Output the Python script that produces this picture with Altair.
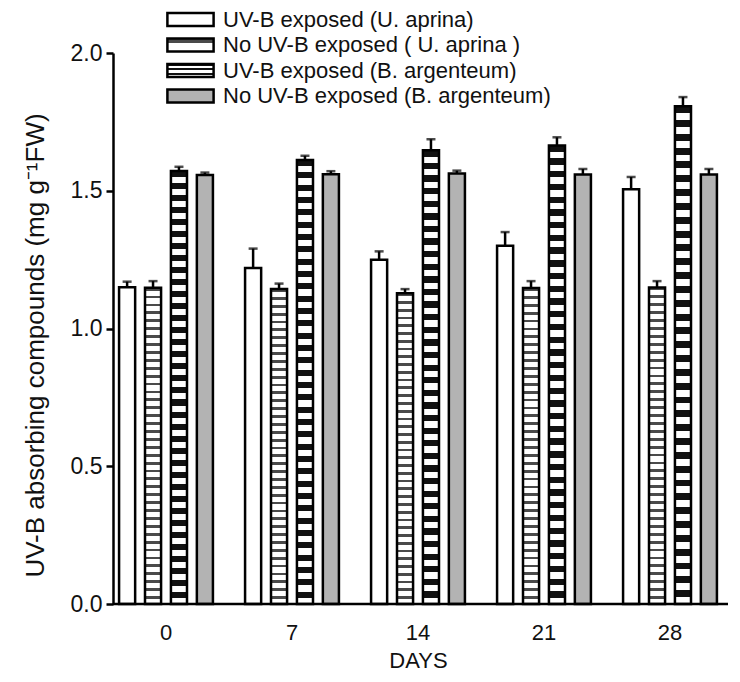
import altair as alt
import pandas as pd

days = ["0", "7", "14", "21", "28"]
series = [
    "UV-B exposed (U. aprina)",
    "No UV-B exposed ( U. aprina )",
    "UV-B exposed (B. argenteum)",
    "No UV-B exposed (B. argenteum)",
]
uv_aprina = [1.150, 1.220, 1.250, 1.300, 1.505]
uv_aprina_err = [0.020, 0.070, 0.030, 0.050, 0.045]
no_aprina = [1.148, 1.143, 1.128, 1.147, 1.149]
no_aprina_err = [0.024, 0.020, 0.015, 0.025, 0.023]
uv_arg = [1.572, 1.612, 1.647, 1.664, 1.807]
uv_arg_err = [0.015, 0.015, 0.040, 0.030, 0.033]
no_arg = [1.557, 1.560, 1.563, 1.559, 1.559]
no_arg_err = [0.009, 0.011, 0.010, 0.020, 0.020]

values = [uv_aprina, no_aprina, uv_arg, no_arg]
errors = [uv_aprina_err, no_aprina_err, uv_arg_err, no_arg_err]

rows = []
for s, vals, errs in zip(series, values, errors):
    for d, v, e in zip(days, vals, errs):
        rows.append({"day": d, "series": s, "value": v, "err": e})
df = pd.DataFrame(rows)


def stripes(n, c1, c2, frac):
    stops = []
    for i in range(n):
        a = i / n
        m = (i + frac) / n
        b = (i + 1) / n
        stops += [(a, c1), (m, c1), (m, c2), (b, c2)]
    st = ",".join("{offset:%.5f,color:'%s'}" % (o, c) for o, c in stops)
    return "{gradient:'linear',x1:0,y1:0,x2:0,y2:1,stops:[" + st + "]}"


fills = [
    "#ffffff",
    {"expr": stripes(40, "#4a4a4a", "#ffffff", 0.36)},
    {"expr": stripes(36, "#111111", "#ffffff", 0.5)},
    "#b3b3b3",
]

FONT = "Liberation Sans"

xscale = alt.Scale(domain=days, range=[-10, 620], paddingInner=0, paddingOuter=0)
xoff = alt.Scale(domain=series, paddingInner=0.38, paddingOuter=0.62)
yscale = alt.Scale(domain=[0, 2], nice=False)

x_enc = alt.X(
    "day:N",
    sort=days,
    scale=xscale,
    title="DAYS",
    axis=alt.Axis(
        labelAngle=0,
        domain=False,
        ticks=False,
        labelPadding=18,
        titlePadding=7,
        labelFontSize=22,
        titleFontSize=22,
        titleFontWeight="normal",
    ),
)
xo_enc = alt.XOffset("series:N", sort=series, scale=xoff)

bars = alt.Chart(df).mark_bar(stroke="black", strokeWidth=2.5).encode(
    x=x_enc,
    xOffset=xo_enc,
    y=alt.Y(
        "value:Q",
        scale=yscale,
        title="UV-B absorbing compounds (mg g⁻¹FW)",
        axis=alt.Axis(
            values=[0, 0.5, 1.0, 1.5, 2.0],
            format=".1f",
            grid=False,
            tickSize=7,
            tickWidth=2.5,
            domainWidth=2.5,
            labelPadding=4,
            labelFontSize=23,
            titleFontSize=26,
            titleFontWeight="normal",
            titlePadding=22,
            titleY=292,
        ),
    ),
    fill=alt.Fill(
        "series:N",
        sort=series,
        scale=alt.Scale(domain=series, range=fills),
        legend=alt.Legend(
            title=None,
            orient="none",
            legendX=65,
            legendY=-46,
            padding=0,
            symbolType="M-2.1,-0.59H2.1V0.59H-2.1Z",
            symbolSize=484,
            symbolStrokeColor="black",
            symbolStrokeWidth=2.5,
            labelFontSize=22,
            labelOffset=20,
            rowPadding=1.5,
            labelLimit=400,
        ),
    ),
)

errbars = alt.Chart(df).transform_calculate(top="datum.value + datum.err").mark_rule(
    color="black", strokeWidth=2.5
).encode(x=x_enc, xOffset=xo_enc, y=alt.Y("value:Q", scale=yscale), y2="top:Q")

caps = alt.Chart(df).transform_calculate(top="datum.value + datum.err").mark_tick(
    color="black", thickness=2.5, size=9
).encode(x=x_enc, xOffset=xo_enc, y=alt.Y("top:Q", scale=yscale))

xline = alt.Chart(pd.DataFrame({"v": [0]})).mark_rule(color="black", strokeWidth=2.5).encode(
    y=alt.Y("v:Q", scale=yscale), x=alt.value(0), x2=alt.value(615)
)

chart = (
    alt.layer(errbars, caps, bars, xline)
    .properties(
        width=615,
        height=551,
        autosize=alt.AutoSizeParams(type="none"),
        padding={"left": 105, "top": 45, "right": 4, "bottom": 70},
    )
    .configure(font=FONT)
    .configure_view(stroke=None)
    .configure_axis(
        labelColor="#111111",
        titleColor="#111111",
        domainColor="black",
        tickColor="black",
        labelFont=FONT,
        titleFont=FONT,
    )
    .configure_legend(labelColor="#111111", labelFont=FONT)
)

chart.save("out.html", embed_options={"renderer": "svg", "actions": False})
